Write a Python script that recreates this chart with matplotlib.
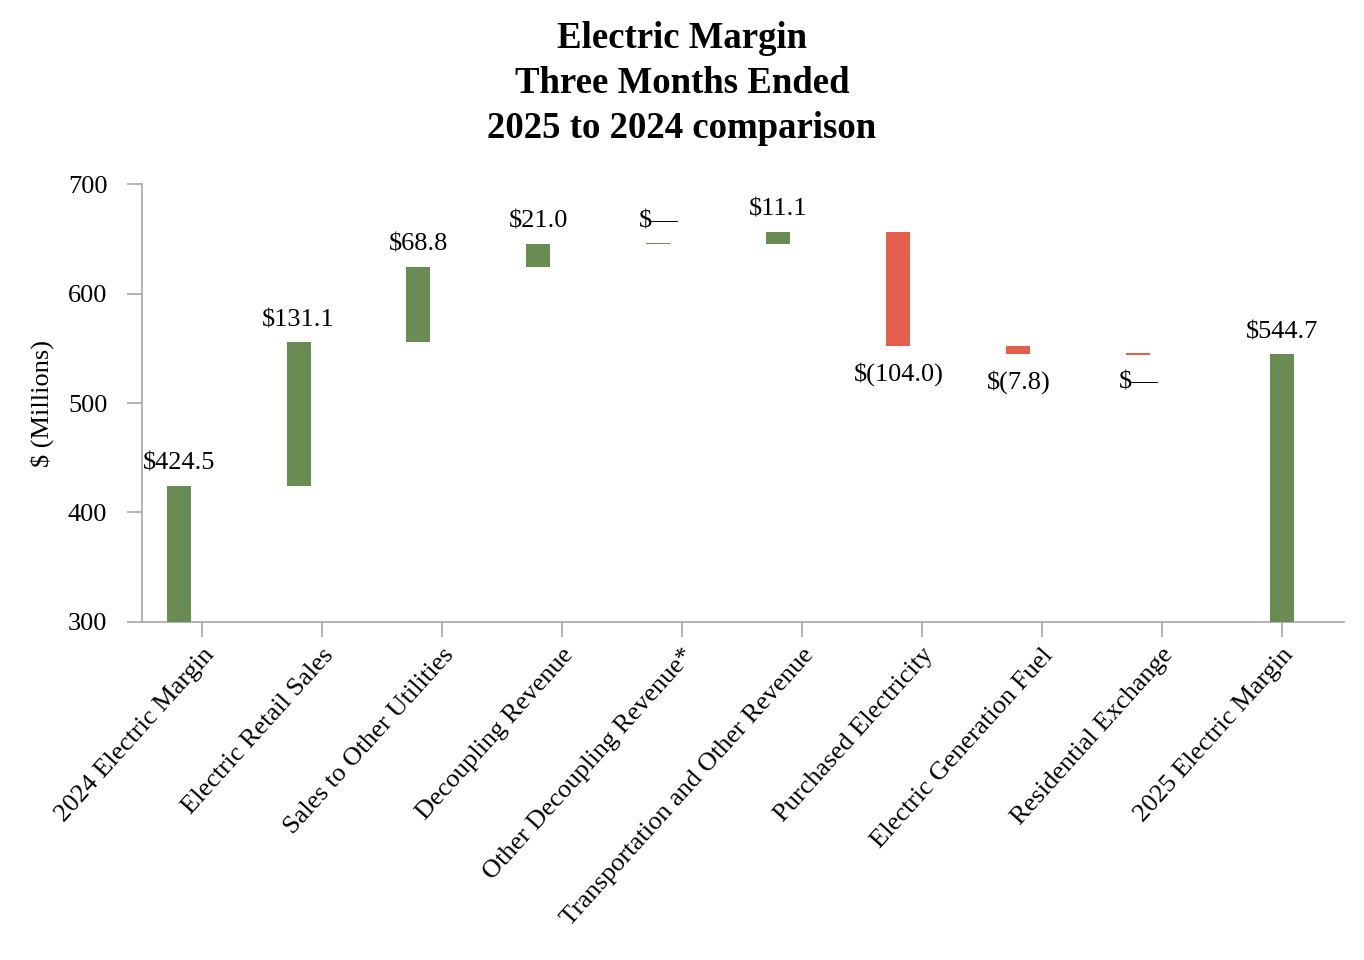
import numpy as np
import matplotlib
matplotlib.use("Agg")
import matplotlib.pyplot as plt

plt.rcParams['font.family'] = ['Liberation Serif', 'DejaVu Serif']

categories = ["2024 Electric Margin", "Electric Retail Sales", "Sales to Other Utilities",
              "Decoupling Revenue", "Other Decoupling Revenue*", "Transportation and Other Revenue",
              "Purchased Electricity", "Electric Generation Fuel", "Residential Exchange",
              "2025 Electric Margin"]
changes = [424.5, 131.1, 68.8, 21.0, 0.0, 11.1, -104.0, -7.8, 0.0, 544.7]
labels = ["$424.5", "$131.1", "$68.8", "$21.0", "$\u2014", "$11.1",
          "$(104.0)", "$(7.8)", "$\u2014", "$544.7"]
is_total = [True, False, False, False, False, False, False, False, False, True]
is_neg = [False, False, False, False, False, False, True, True, True, False]

green = "#698c53"
red = "#e35f4b"
grey = "#a6a6a6"
base_y = 300
fs = 19

fig = plt.figure(figsize=(13.64, 9.6), dpi=100)
ax = fig.add_axes([0.1041, 0.3521, 0.8812, 0.4562])

x = np.arange(len(categories))
offsets = np.full(len(categories), -0.195)
offsets[-1] = 0.0
running = 0.0
for i, v in enumerate(changes):
    if is_total[i]:
        bottom, height = base_y, v - base_y
        running = v
    else:
        start = running
        running = running + v
        bottom, height = min(start, running), abs(v)
        if height == 0:
            bottom, height = running - 0.6, 1.2
    col = red if is_neg[i] else green
    xc = x[i] + offsets[i]
    ax.bar(xc, height, bottom=bottom, width=0.2, color=col, zorder=3)
    if is_neg[i]:
        ax.text(xc, bottom - 15, labels[i], ha='center', va='top', fontsize=fs)
    else:
        ax.text(xc, bottom + height + 10, labels[i], ha='center', va='bottom', fontsize=fs)

ax.set_xlim(-0.5, 9.52)
ax.set_ylim(300, 700)
ax.set_yticks([300, 400, 500, 600, 700])
ax.set_xticks(x)
ax.set_xticklabels(categories, rotation=48, ha='right', rotation_mode='anchor', fontsize=fs)
ax.tick_params(axis='y', labelsize=fs, length=11, color=grey, width=1.2, pad=14)
ax.tick_params(axis='x', length=11, color=grey, width=1.2, pad=5)
for s in ['top', 'right']:
    ax.spines[s].set_visible(False)
for s in ['left', 'bottom']:
    ax.spines[s].set_color(grey)
    ax.spines[s].set_linewidth(1.2)
ax.set_ylabel("$ (Millions)", fontsize=fs, labelpad=10)

fig.text(0.5, 0.978, "Electric Margin\nThree Months Ended\n2025 to 2024 comparison",
         ha='center', va='top', fontsize=26.5, fontweight='bold', linespacing=1.37)

fig.savefig("out.png", dpi=100)
